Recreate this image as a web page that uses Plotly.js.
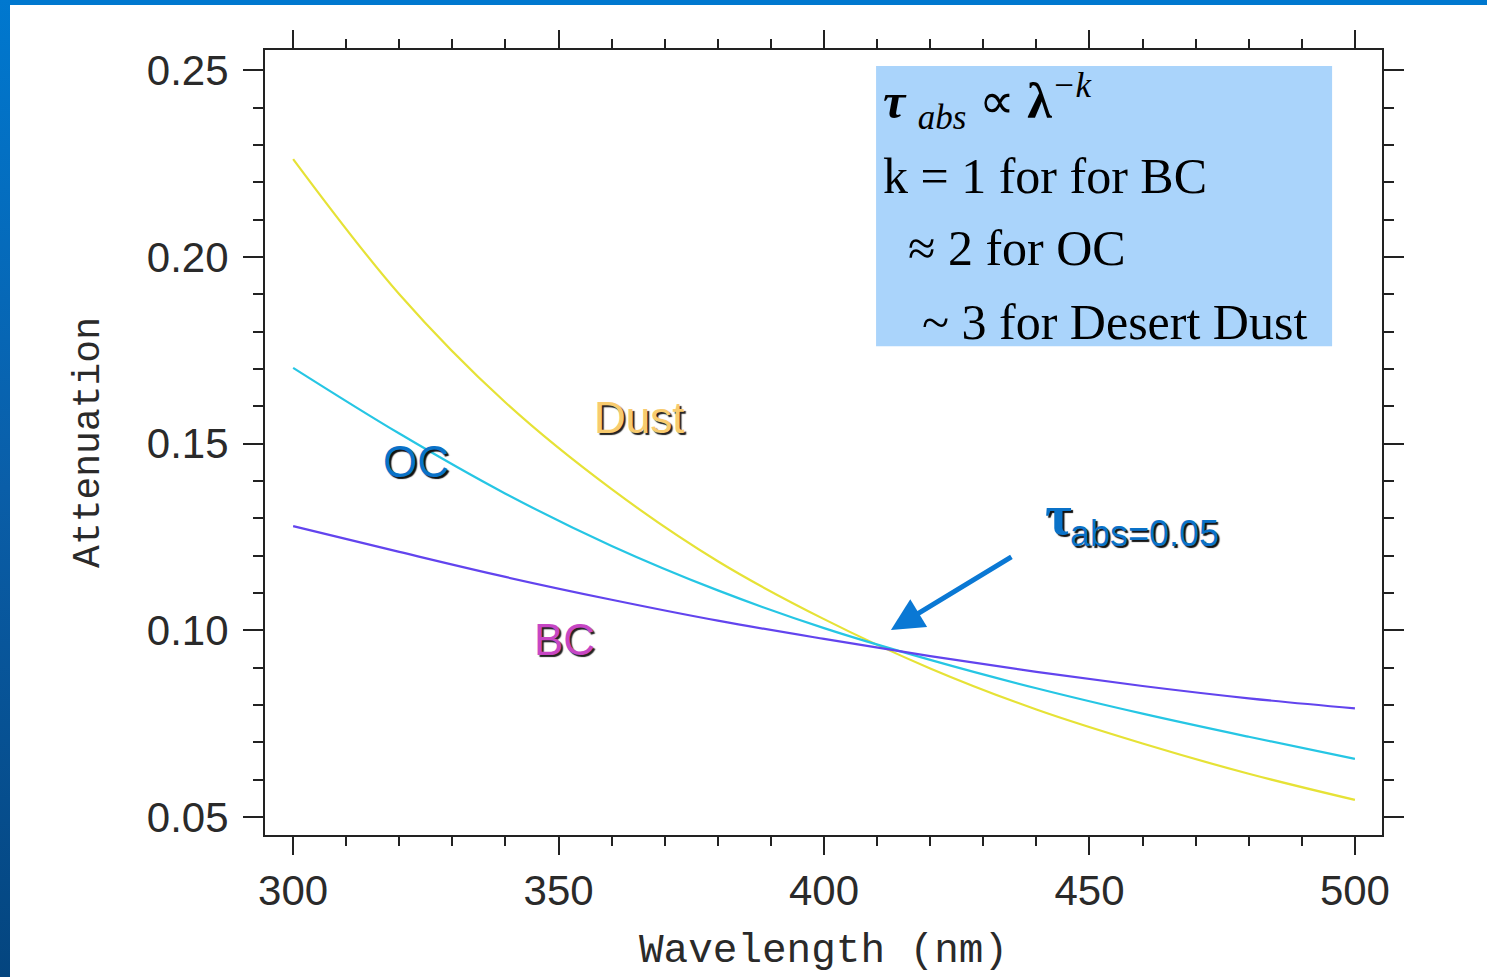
<!DOCTYPE html>
<html>
<head>
<meta charset="utf-8">
<script src="https://cdn.plot.ly/plotly-3.0.1.min.js"></script>
<style>
  html, body { margin: 0; padding: 0; background: #ffffff; width: 1487px; height: 977px; overflow: hidden; }
  #chart { position: absolute; left: 0; top: 0; width: 1487px; height: 977px; }
  #topbar { position: absolute; left: 0; top: 0; width: 1487px; height: 5px; background: #0078cf; z-index: 5; }
  #leftbar { position: absolute; left: 0; top: 0; width: 10px; height: 977px; background: linear-gradient(#0078cf, #0a5ea8 50%, #04457f); z-index: 5; }
</style>
</head>
<body>
<div id="chart"></div>
<div id="topbar"></div>
<div id="leftbar"></div>
<script>
// Values (every 20 nm)
const wavelength = [300, 320, 340, 360, 380, 400, 420, 440, 460, 480, 500];
const dust = [0.2262, 0.1900, 0.1610, 0.1378, 0.1185, 0.1030, 0.0898, 0.0788, 0.0697, 0.0616, 0.0546];
const oc   = [0.1703, 0.1527, 0.1366, 0.1226, 0.1107, 0.1006, 0.0921, 0.0845, 0.0777, 0.0715, 0.0656];
const bc   = [0.1279, 0.1210, 0.1143, 0.1082, 0.1026, 0.0977, 0.0931, 0.0889, 0.0851, 0.0818, 0.0791];

const xTickVals = [300, 350, 400, 450, 500];
const xTickText = ['300', '350', '400', '450', '500'];
const yTickVals = [0.05, 0.10, 0.15, 0.20, 0.25];
const yTickText = ['0.05', '0.10', '0.15', '0.20', '0.25'];

const mk = (y, color, name) => ({
  x: wavelength, y: y, type: 'scatter', mode: 'lines', name: name,
  line: { color: color, width: 2.2, shape: 'spline', smoothing: 1 },
  hoverinfo: 'skip'
});

const traces = [
  mk(dust, '#e6e236', 'Dust'),
  mk(oc, '#26c6e4', 'OC'),
  mk(bc, '#6244ee', 'BC')
];

const tickFont = { family: 'Liberation Sans, Arial, sans-serif', size: 42, color: '#2a2a2a' };
const mono = 'Liberation Mono, Courier New, monospace';
const serif = 'Liberation Serif, Times New Roman, serif';
const sans = 'Liberation Sans, Arial, sans-serif';
const boxFont = { family: serif, size: 50, color: '#000' };

const layout = {
  width: 1487, height: 977,
  margin: { l: 265, r: 105, t: 50, b: 142 },
  paper_bgcolor: 'rgba(0,0,0,0)',
  plot_bgcolor: '#ffffff',
  showlegend: false,
  xaxis: {
    range: [294.7, 505.1],
    tickvals: xTickVals, ticktext: xTickText,
    ticks: 'outside', ticklen: 18, tickwidth: 2, tickcolor: '#222',
    minor: { dtick: 10, tick0: 300, ticks: 'outside', ticklen: 9, tickwidth: 2, tickcolor: '#222', showgrid: false },
    showline: true, linecolor: '#222', linewidth: 2, mirror: 'ticks',
    showgrid: false, zeroline: false,
    tickfont: tickFont,
    title: { text: 'Wavelength (nm)', font: { family: mono, size: 41, color: '#2a2a2a' }, standoff: 20 }
  },
  yaxis: {
    range: [0.0452, 0.2554],
    tickvals: yTickVals, ticktext: yTickText,
    ticks: 'outside', ticklen: 20, tickwidth: 2, tickcolor: '#222',
    minor: { dtick: 0.01, tick0: 0.05, ticks: 'outside', ticklen: 10, tickwidth: 2, tickcolor: '#222', showgrid: false },
    showline: true, linecolor: '#222', linewidth: 2, mirror: 'ticks',
    showgrid: false, zeroline: false,
    tickfont: tickFont,
    ticklabelstandoff: 6,
    title: { text: 'Attenuation', font: { family: mono, size: 38, color: '#2a2a2a' }, standoff: 36 }
  },
  shapes: [
    { type: 'rect', xref: 'x', yref: 'y', x0: 409.8, x1: 495.7, y0: 0.1761, y1: 0.2511,
      fillcolor: '#aad4fb', line: { width: 0 }, layer: 'above' }
  ],
  annotations: [
    { xref: 'x', yref: 'y', x: 410.8, y: 0.2417, xanchor: 'left', yanchor: 'middle', showarrow: false,
      text: '<b><i>τ</i></b> <sub><i>abs</i></sub> ∝ <b>λ</b><sup><i>−k</i></sup>', font: boxFont },
    { xref: 'x', yref: 'y', x: 410.8, y: 0.2217, xanchor: 'left', yanchor: 'middle', showarrow: false,
      text: 'k = 1 for for BC', font: boxFont },
    { xref: 'x', yref: 'y', x: 415.5, y: 0.2025, xanchor: 'left', yanchor: 'middle', showarrow: false,
      text: '≈ 2 for OC', font: boxFont },
    { xref: 'x', yref: 'y', x: 418.0, y: 0.1827, xanchor: 'left', yanchor: 'middle', showarrow: false,
      text: '~ 3 for Desert Dust', font: boxFont },

    { xref: 'x', yref: 'y', x: 365.2, y: 0.1569, xanchor: 'center', yanchor: 'middle', showarrow: false,
      text: 'Dust', font: { family: sans, size: 44, color: '#f8cb6e', shadow: '2px 2px 1px #222' } },
    { xref: 'x', yref: 'y', x: 323.2, y: 0.1453, xanchor: 'center', yanchor: 'middle', showarrow: false,
      text: 'OC', font: { family: sans, size: 44, color: '#0a72c8', shadow: '2px 2px 1px #111' } },
    { xref: 'x', yref: 'y', x: 351.2, y: 0.0976, xanchor: 'center', yanchor: 'middle', showarrow: false,
      text: 'BC', font: { family: sans, size: 44, color: '#c746c4', shadow: '2px 2px 1px #222' } },

    { xref: 'x', yref: 'y', x: 441.3, y: 0.1311, xanchor: 'left', yanchor: 'middle', showarrow: false,
      text: 'τ', font: { family: serif, size: 58, color: '#0a72c8', weight: 700, shadow: '2px 2px 1px #111' } },
    { xref: 'x', yref: 'y', x: 445.9, y: 0.1260, xanchor: 'left', yanchor: 'middle', showarrow: false,
      text: 'abs=0.05', font: { family: sans, size: 36, color: '#0a72c8', shadow: '2px 2px 1px #111' } },

    { xref: 'x', yref: 'y', x: 412.6, y: 0.1001, ax: 122, ay: -74, axref: 'pixel', ayref: 'pixel',
      showarrow: true, arrowhead: 2, arrowsize: 1.3, arrowwidth: 5, arrowcolor: '#0a78d4', text: '' }
  ]
};

Plotly.newPlot('chart', traces, layout, { staticPlot: true, displayModeBar: false });
</script>
</body>
</html>
